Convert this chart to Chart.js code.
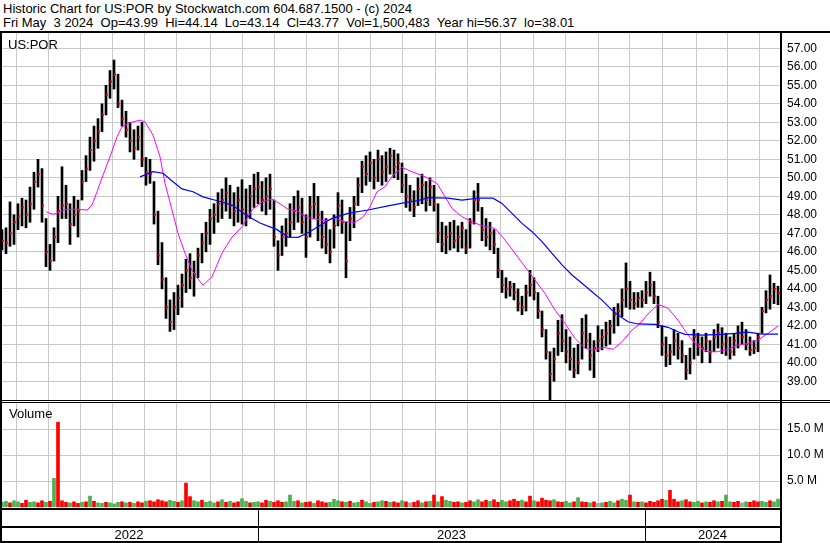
<!DOCTYPE html>
<html><head><meta charset="utf-8">
<script src="https://cdn.jsdelivr.net/npm/chart.js@4/dist/chart.umd.min.js"></script>
<style>
html,body{margin:0;padding:0;background:#fff;}
#wrap{position:relative;width:830px;height:543px;overflow:hidden;background:#fff;font-family:'Liberation Sans',Arial,sans-serif;color:#000;}
.t{position:absolute;white-space:pre;font-size:13px;line-height:15px;}
.b{position:absolute;background:#000;}
canvas{position:absolute;left:0;}
</style></head><body>
<div id="wrap">
<div class="t" style="left:3px;top:1px">Historic Chart for US:POR by Stockwatch.com 604.687.1500 - (c) 2024</div>
<div class="t" style="left:3px;top:15px">Fri May  3 2024  Op=43.99  Hi=44.14  Lo=43.14  Cl=43.77  Vol=1,500,483  Year hi=56.37  lo=38.01</div>
<canvas id="pc" width="830" height="402" style="top:0"></canvas>
<canvas id="vc" width="830" height="140" style="top:403px"></canvas>
<div class="t" style="left:8px;top:37px">US:POR</div>
<div class="t" style="left:9px;top:406px">Volume</div>
<div class="b" style="left:0;top:31px;width:830px;height:2px"></div>
<div class="b" style="left:0;top:31px;width:2px;height:512px"></div>
<div class="b" style="left:780px;top:31px;width:2px;height:512px"></div>
<div class="b" style="left:0;top:400px;width:830px;height:1px"></div>
<div class="b" style="left:0;top:402px;width:830px;height:1px"></div>
<div class="b" style="left:0;top:508px;width:782px;height:2px"></div>
<div class="b" style="left:0;top:526px;width:782px;height:2px"></div>
<div class="b" style="left:0;top:541px;width:782px;height:2px"></div>
</div>
<script>
// ---- data (one bar per period of ~2.6 trading days, May 2022 - May 2024) ----
const high = [47.2,47.3,48.7,48.0,48.6,48.9,48.8,49.5,
 50.3,51.0,50.5,47.8,46.4,47.3,49.0,50.6,
 49.6,48.6,49.0,48.8,50.4,51.2,52.2,52.8,
 53.2,54.0,55.0,55.8,56.37,55.6,54.2,53.6,
 53.0,52.6,52.8,53.0,51.1,51.0,49.8,48.2,
 46.5,44.6,43.4,43.8,44.2,44.8,45.6,45.9,
 45.5,46.2,47.0,47.6,48.3,48.6,49.2,49.4,
 50.0,49.6,49.2,49.5,49.9,49.4,49.6,50.2,
 50.3,49.8,50.0,50.2,48.8,46.6,47.4,47.8,
 48.6,49.0,49.3,48.9,48.0,49.0,49.7,49.0,
 48.2,47.8,47.2,48.0,49.2,48.8,47.6,48.4,
 49.0,50.0,50.9,51.2,51.4,51.0,51.5,51.2,
 51.4,51.6,51.5,51.3,50.8,50.2,49.6,49.3,
 50.0,50.2,49.8,50.0,49.6,48.6,47.6,47.4,
 47.6,47.7,47.4,47.6,47.2,47.8,49.3,49.7,
 48.4,47.8,47.6,47.2,46.2,45.0,44.6,44.4,
 44.3,44.0,43.6,44.2,45.0,44.6,43.8,42.8,
 41.8,40.6,40.8,42.3,42.6,41.8,41.4,40.8,
 41.0,42.4,42.6,41.6,41.2,42.0,41.8,42.2,
 42.3,43.0,43.2,44.0,45.4,44.4,43.8,43.8,
 43.9,44.4,44.9,44.4,43.6,42.0,41.4,41.0,
 41.8,41.6,41.2,40.4,40.8,41.8,41.6,41.4,
 41.6,41.2,41.8,42.1,41.9,41.6,41.4,41.6,
 42.0,42.2,41.8,41.4,41.2,41.6,43.0,43.9,
 44.75,44.3,44.14];
const low = [46.1,45.9,46.3,46.4,47.2,47.4,47.3,47.6,
 48.3,49.5,47.6,45.2,45.0,45.5,46.5,47.8,
 47.8,46.4,47.4,46.8,48.8,49.8,50.4,50.9,
 51.6,52.5,53.4,54.3,54.8,53.8,52.8,52.2,
 51.4,51.0,51.5,50.6,49.6,49.7,47.5,45.3,
 44.0,42.4,41.7,41.8,42.6,43.0,43.8,44.0,
 43.6,44.6,45.4,46.0,46.4,47.0,47.6,47.8,
 48.2,47.8,47.4,47.6,47.5,47.4,47.8,48.4,
 48.6,48.2,48.0,48.3,46.3,45.0,45.8,46.3,
 46.8,47.2,47.6,47.0,45.7,46.8,47.8,46.6,
 46.2,45.9,45.4,46.2,47.4,47.0,44.6,46.6,
 47.3,48.5,49.2,49.6,49.8,49.4,49.8,49.6,
 49.8,50.2,50.0,49.9,49.2,48.4,48.2,47.9,
 48.5,48.6,48.2,48.5,48.2,46.5,46.0,45.9,
 46.1,46.2,46.0,46.2,45.9,46.2,47.5,48.2,
 46.6,46.3,46.1,45.9,44.6,43.8,43.5,43.6,
 43.4,42.8,42.6,42.8,43.6,43.4,42.4,41.4,
 40.2,38.01,39.0,40.4,40.6,40.0,39.6,39.2,
 39.4,40.2,40.8,39.6,39.2,40.6,40.7,40.9,
 41.0,41.6,42.0,42.5,43.0,42.9,42.9,43.0,
 43.0,43.2,43.6,43.2,41.9,40.4,39.8,39.9,
 40.4,40.2,40.0,39.1,39.4,40.2,40.4,40.0,
 40.6,40.0,40.6,40.8,40.5,40.4,40.2,40.4,
 40.8,41.0,40.7,40.4,40.5,40.6,41.6,42.7,
 42.9,43.2,43.14];
const close = [46.6,46.5,47.0,47.6,47.9,48.4,48.0,48.6,
 49.8,50.2,48.5,46.0,45.5,46.8,48.2,48.5,
 48.6,47.5,48.0,48.2,49.8,50.5,51.5,52.0,
 52.5,53.4,54.5,55.2,55.6,54.0,53.2,52.6,
 52.0,51.6,52.2,51.0,50.3,50.2,48.0,45.8,
 44.5,43.0,42.2,43.0,43.5,44.2,45.0,44.6,
 44.8,45.8,46.5,47.0,47.8,48.0,48.6,48.8,
 49.2,48.5,48.2,48.8,48.3,48.0,49.0,49.4,
 49.5,48.8,49.0,49.4,46.8,45.8,46.8,47.0,
 47.6,48.2,48.4,47.6,46.8,48.4,48.6,48.0,
 46.8,46.4,46.0,47.4,48.5,47.6,45.5,47.8,
 48.6,49.6,50.6,50.2,50.8,50.0,51.0,50.3,
 50.6,51.2,50.6,50.8,49.6,49.0,48.8,48.4,
 49.4,49.6,48.8,49.5,48.6,47.0,46.4,46.8,
 47.0,46.6,46.8,47.3,46.2,47.6,48.8,48.8,
 47.2,46.8,47.0,46.4,45.0,44.2,44.0,44.1,
 43.8,43.2,43.0,43.8,44.2,43.8,42.8,41.8,
 40.6,39.4,40.2,41.6,41.2,40.6,40.2,39.6,
 40.0,41.6,41.2,40.4,40.8,41.2,41.4,41.6,
 42.0,42.6,42.8,43.4,44.0,43.4,43.2,43.5,
 43.4,43.8,44.2,43.6,42.2,41.0,40.4,40.6,
 41.2,40.8,40.4,39.6,40.0,41.4,41.0,40.8,
 41.2,40.6,41.4,41.6,41.0,41.2,40.6,41.2,
 41.6,41.4,41.0,40.7,40.8,41.4,42.8,43.4,
 43.6,44.0,43.77];
// volume in millions
const volume = [0.9,1.1,0.8,1.2,1.0,0.7,1.3,0.9,
 1.0,0.8,1.2,0.9,1.1,5.5,16.3,1.2,
 0.9,0.8,1.0,0.7,0.9,1.0,2.1,1.1,
 0.8,0.7,0.9,0.8,0.6,0.9,1.0,0.8,
 0.9,0.7,1.0,0.8,1.1,1.2,1.0,1.4,
 1.2,1.0,1.3,1.1,0.9,1.2,4.6,2.0,
 1.2,1.0,1.3,0.9,1.1,0.8,1.0,1.4,
 0.9,1.1,0.8,1.0,1.6,1.1,0.8,0.9,
 1.0,0.8,1.3,1.1,0.9,1.2,0.9,1.0,
 2.3,1.1,1.2,0.8,0.9,1.0,0.7,1.2,
 1.0,0.8,0.9,1.5,1.2,1.0,0.9,1.1,
 0.8,0.9,1.3,1.0,0.7,0.9,1.0,1.2,
 1.1,0.9,1.0,0.8,1.2,1.0,0.8,0.9,
 1.2,0.8,1.0,1.1,2.3,1.0,2.0,1.3,
 1.1,0.9,1.0,0.8,0.9,1.2,1.0,1.4,
 1.0,1.3,1.1,1.4,0.9,1.3,1.0,1.2,
 1.5,1.1,1.3,1.0,2.1,1.2,1.0,1.7,
 1.3,1.2,1.4,1.0,0.9,1.1,0.8,1.0,
 1.8,1.0,0.9,0.8,1.0,0.7,0.8,0.9,
 1.1,0.8,1.2,1.5,1.3,2.3,1.0,0.9,
 1.0,0.8,1.1,0.9,1.2,1.5,1.3,3.2,
 1.5,1.0,1.2,1.4,1.0,0.9,1.1,0.8,
 1.0,0.9,1.2,1.0,1.1,2.3,1.0,0.9,
 1.1,0.8,1.0,0.9,1.2,1.0,1.1,0.9,
 1.2,1.0,1.5];
// day direction: u = up, d = down, n = unchanged
const direction = ("uuduuddu uddududd duddudud uuduuudu dudduddd dduududd uuduuudu dudduudu " +
 "uddudddu uududdud dduuudud uuduuduu duddudnd dudududu uddudduu ddudduud " +
 "dduddudd ddudduud uddudnud uuduudud udddddud ddudduud udduduud dnuddduu duu").replace(/ /g,"").split("");
// moving averages: period position / value
const ma50Pos = [11,12.75,14.5,16.25,18.75,21.25,22.5,23.75,25.25,27,28.75,30,32,34.5,35.75,37.75,39.5,40.75,42.5,44,45.75,47.5,48.75,50.25,52.5,55,57.5,60,62.5,65,67.5,69.5,71.5,74,75.75,78.25,80.75,83.25,85.75,88.25,90.25,92,93.75,95.75,97.75,100,102.5,105.75,108.75,110.25,112.5,115,117.5,119.5,120.75,123.25,125.75,128.25,130.75,133.25,135.75,138.25,140.75,143.25,145.75,147.75,150.25,152.75,155,157.5,159.5,161.25,164,166.5,169,171.5,174,176.5,179,181.5,184,186.5,189,191.5,194];
const ma50 = [48.17,48.03,48.17,48.3,48.3,48.26,48.53,49.25,50.15,51.14,52.22,52.76,52.98,53.12,53.03,52.31,51.14,49.7,48.26,47.0,45.93,45.0,44.6,44.2,44.65,45.93,46.8,47.35,48.26,48.7,48.85,48.6,48.3,48.2,47.9,47.77,47.68,47.8,47.63,47.6,47.88,48.44,49.25,49.52,50.15,50.57,50.33,50.06,49.7,49.16,48.35,47.9,47.63,47.45,47.36,47.27,46.64,45.92,45.19,44.47,43.75,42.85,42.13,41.32,40.78,40.69,40.84,40.73,41.14,41.77,42.13,42.58,43.16,42.95,42.31,41.5,40.87,40.6,40.6,40.73,40.96,41.05,41.23,41.59,41.99];
const ma200Pos = [34.5,37.75,40.25,42.75,45,47.75,50.25,54.5,57.75,61.25,64.5,68.75,71.5,74,76.5,79,82.5,86.5,91.5,96.5,100.75,104,106.5,111.5,115,119,122.75,125,127.5,130,132.5,135,137.5,140,142.5,145,147.5,150,152.5,154,156.5,159,163.25,166.5,169,170.75,175,180,183.25,186.5,190,194];
const ma200 = [50.05,50.33,50.25,49.79,49.4,49.25,48.97,48.72,48.5,47.95,47.56,47.2,46.8,46.78,47.03,47.36,47.81,48.08,48.26,48.48,48.66,48.77,48.93,48.9,48.8,48.9,48.9,48.62,48.08,47.54,47.09,46.55,45.92,45.29,44.75,44.3,43.84,43.39,42.85,42.58,42.22,42.1,42.08,41.92,41.68,41.54,41.5,41.54,41.59,41.66,41.55,41.55];
// month boundaries (period position) and years
const monthStarts = [7.5,15.5,23.5,31.75,39.5,47.75,56.25,64,72.25,80,88,96,104.25,112.5,120.25,129,136.5,145,153,160.75,169.5,177.5,185.25,193.25];
const years = ["2022","2023","2024"];
const yearStarts = [-0.5,64,160.75];
const priceTicks = [39,40,41,42,43,44,45,46,47,48,49,50,51,52,53,54,55,56,57];
const volTicks = [5,10,15];

const FONT = "'Liberation Sans', Arial, sans-serif";
const X_MIN = -0.5, X_MAX = high.length - 0.5;
const GRID = '#c8c8c8';

const xScale = {
  type:'linear', min:X_MIN, max:X_MAX, offset:false,
  grid:{color:GRID, lineWidth:1, drawTicks:false},
  border:{display:false},
  ticks:{display:false},
  afterBuildTicks(s){ s.ticks = monthStarts.map(v=>({value:v})); },
  afterFit(s){ s.height = 0; s.paddingLeft = 0; s.paddingRight = 0; }
};
function rightAxisFit(s){ s.width = 50; s.paddingTop = 0; s.paddingBottom = 0; }

const barData = high.map((h,i)=>({x:i, y:[low[i], h]}));
const closeData = close.map((c,i)=>({x:i+0.25, y:c}));
const ma50Data = ma50.map((v,i)=>({x:ma50Pos[i], y:v}));
const ma200Data = ma200.map((v,i)=>({x:ma200Pos[i], y:v}));

new Chart(document.getElementById('pc'), {
  type:'bar',
  data:{datasets:[
    {type:'line', data:ma200Data, borderColor:'#0000ff', borderWidth:1.2, pointRadius:0, tension:0, order:1},
    {type:'line', data:ma50Data, borderColor:'#ff00ff', borderWidth:1, pointRadius:0, tension:0, order:2},
    {type:'scatter', data:closeData, backgroundColor:'#ff0000', borderWidth:0, pointStyle:'rect', pointRadius:1.45, order:3},
    {type:'bar', data:barData, backgroundColor:'#000', barThickness:2, order:4}
  ]},
  options:{
    responsive:false, animation:false, events:[],
    layout:{padding:{top:33, bottom:2, left:0, right:0}, autoPadding:false},
    plugins:{legend:{display:false}, tooltip:{enabled:false}},
    scales:{
      x:xScale,
      y:{position:'right', min:37.99, max:57.83,
        grid:{color:GRID, lineWidth:1, drawTicks:false},
        border:{display:false},
        afterBuildTicks(s){ s.ticks = priceTicks.map(v=>({value:v})); },
        afterFit:rightAxisFit,
        ticks:{padding:7, color:'#000', font:{family:FONT, size:12}, callback:v=>Number(v).toFixed(2)}
      }
    }
  }
});

const volColors = direction.map(d => d==='u' ? '#4cb04c' : (d==='d' ? '#ff0000' : '#a0a0a0'));

const yearStrip = {
  id:'yearStrip',
  afterDraw(chart){
    const ctx = chart.ctx, xs = chart.scales.x;
    ctx.save();
    ctx.fillStyle = '#000';
    const bounds = yearStarts.concat([X_MAX]);
    for (let i=1;i<yearStarts.length;i++){
      const px = Math.round(xs.getPixelForValue(yearStarts[i]));
      ctx.fillRect(px, 107, 1, 31);
    }
    ctx.font = '13px ' + FONT;
    ctx.textAlign = 'center';
    ctx.textBaseline = 'alphabetic';
    for (let i=0;i<years.length;i++){
      const a = xs.getPixelForValue(bounds[i]), b = xs.getPixelForValue(bounds[i+1]);
      ctx.fillText(years[i], (a+b)/2, 136);
    }
    ctx.restore();
  }
};

new Chart(document.getElementById('vc'), {
  type:'bar',
  data:{datasets:[
    {data:volume.map((v,i)=>({x:i, y:v})), backgroundColor:volColors, barThickness:3}
  ]},
  options:{
    responsive:false, animation:false, events:[],
    layout:{padding:{top:0, bottom:36, left:0, right:0}, autoPadding:false},
    plugins:{legend:{display:false}, tooltip:{enabled:false}},
    scales:{
      x:xScale,
      y:{position:'right', min:0, max:20,
        grid:{color:GRID, lineWidth:1, drawTicks:false},
        border:{display:false},
        afterBuildTicks(s){ s.ticks = volTicks.map(v=>({value:v})); },
        afterFit:rightAxisFit,
        ticks:{padding:7, color:'#000', font:{family:FONT, size:12}, callback:v=>Number(v).toFixed(1)+' M'}
      }
    }
  },
  plugins:[yearStrip]
});
</script>
</body></html>
